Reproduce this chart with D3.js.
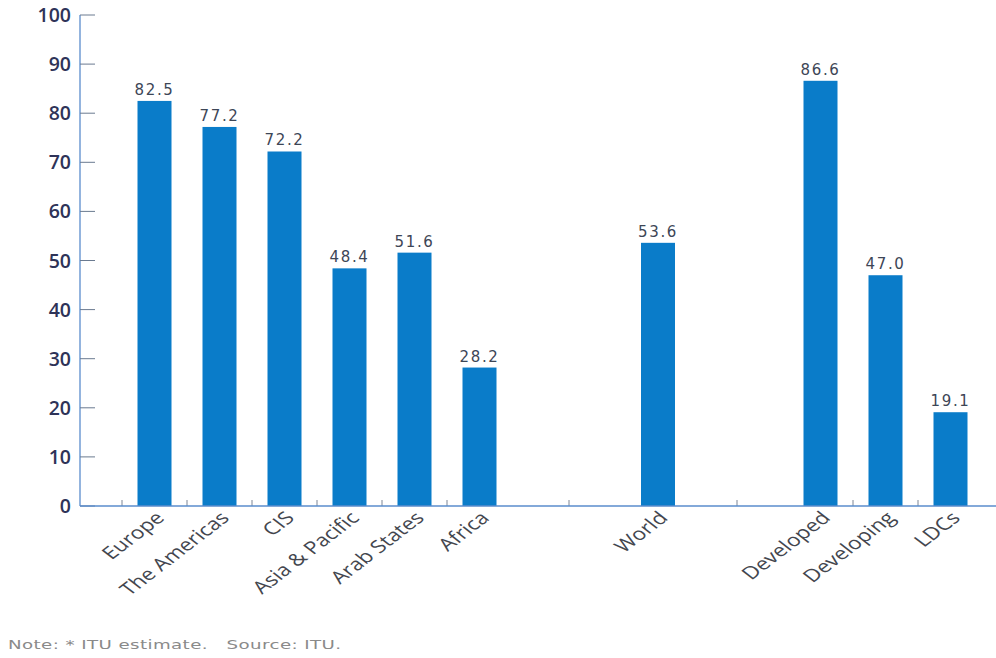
<!DOCTYPE html>
<html>
<head>
<meta charset="utf-8">
<script src="https://cdn.jsdelivr.net/npm/d3@7"></script>
<style>
  body { margin: 0; background: #fff; }
  svg { display: block; }
</style>
</head>
<body>
<svg class="chart"></svg>
<script>
// chart data, one small array per group of bars
var regions = ["Europe", "The Americas", "CIS", "Asia & Pacific", "Arab States", "Africa"];
var regionValues = [82.5, 77.2, 72.2, 48.4, 51.6, 28.2];
var world = ["World"];
var worldValues = [53.6];
var levels = ["Developed", "Developing", "LDCs"];
var levelValues = [86.6, 47.0, 19.1];
var yTicks = [0, 10, 20, 30, 40, 50, 60, 70, 80, 90, 100];
var note = "Note: * ITU estimate.   Source: ITU.";

var width = 996, height = 658;
var axisX = 80, baseY = 506, topY = 15;
var barWidth = 34;
var barColor = "#0a7cc9";

var svg = d3.select(".chart")
    .attr("width", width)
    .attr("height", height);

var y = d3.scaleLinear().domain([0, 100]).range([baseY, topY]);

// each group gets its own band scale, the gaps between groups are layout only
var groups = [
  { names: regions, values: regionValues, range: [122, 512], ticks: "starts" },
  { names: world, values: worldValues, range: [593, 723], ticks: [569, 737] },
  { names: levels, values: levelValues, range: [788, 983], ticks: "inner" }
];

// y axis
svg.append("line")
    .attr("x1", axisX).attr("x2", axisX)
    .attr("y1", y(100)).attr("y2", baseY)
    .attr("stroke", "#5a8ccc").attr("stroke-width", 1.3);

svg.selectAll("line.ytick")
    .data(yTicks)
  .enter().append("line")
    .attr("class", "ytick")
    .attr("x1", axisX).attr("x2", axisX + 15)
    .attr("y1", function(d) { return y(d); })
    .attr("y2", function(d) { return y(d); })
    .attr("stroke", "#6a7a90").attr("stroke-width", 1);

svg.selectAll("text.ylabel")
    .data(yTicks)
  .enter().append("text")
    .attr("class", "ylabel")
    .attr("x", axisX - 9)
    .attr("y", function(d) { return y(d); })
    .attr("dy", "0.36em")
    .attr("text-anchor", "end")
    .attr("style", "font-family: 'Open Sans'; font-size: 19.5px; font-weight: 600; fill: #2e3358;")
    .text(function(d) { return d; });

groups.forEach(function(g) {
  var x = d3.scaleBand()
      .domain(g.names)
      .range(g.range)
      .paddingInner(0.48)
      .paddingOuter(0.24);

  var rows = g.names.map(function(n, i) { return { name: n, value: g.values[i] }; });
  var cx = function(d) { return x(d.name) + x.bandwidth() / 2; };

  svg.selectAll(null)
      .data(rows)
    .enter().append("rect")
      .attr("x", function(d) { return cx(d) - barWidth / 2; })
      .attr("y", function(d) { return y(d.value); })
      .attr("width", barWidth)
      .attr("height", function(d) { return baseY - y(d.value); })
      .attr("fill", barColor);

  svg.selectAll(null)
      .data(rows)
    .enter().append("text")
      .attr("x", cx)
      .attr("y", function(d) { return y(d.value) - 6; })
      .attr("text-anchor", "middle")
      .attr("style", "font-family: 'DejaVu Sans'; font-size: 15px; letter-spacing: 1.6px; fill: #3d4656;")
      .text(function(d) { return d.value.toFixed(1); });

  // category labels, slanted and a bit stretched like the original
  svg.selectAll(null)
      .data(rows)
    .enter().append("text")
      .attr("transform", function(d) {
        return "translate(" + (cx(d) + 11) + "," + (baseY + 13) + ") scale(1.3,1) rotate(-45)";
      })
      .attr("text-anchor", "end")
      .attr("style", "font-family: 'Open Sans'; font-size: 17.5px; fill: #43464e;")
      .text(function(d) { return d.name; });

  // small upward ticks on the category axis
  var step = x.step();
  var tickX;
  if (g.ticks === "starts")
    tickX = g.names.map(function(n) { return x(n) - step * 0.24; });
  else if (g.ticks === "inner")
    tickX = g.names.slice(1).map(function(n) { return x(n) - step * 0.24; });
  else
    tickX = g.ticks;

  svg.selectAll(null)
      .data(tickX)
    .enter().append("line")
      .attr("x1", function(d) { return d; })
      .attr("x2", function(d) { return d; })
      .attr("y1", baseY).attr("y2", baseY - 6)
      .attr("stroke", "#7d8696").attr("stroke-width", 1);
});

// x axis line
svg.append("line")
    .attr("x1", axisX).attr("x2", width)
    .attr("y1", baseY).attr("y2", baseY)
    .attr("stroke", "#5a8ccc").attr("stroke-width", 1.3);

svg.append("text")
    .attr("transform", "translate(8,649) scale(1.4,1)")
    .attr("style", "font-family: 'DejaVu Sans'; font-size: 13px; letter-spacing: 0.3px; fill: #8a8a8a; white-space: pre;")
    .attr("xml:space", "preserve")
    .text(note);
</script>
</body>
</html>
